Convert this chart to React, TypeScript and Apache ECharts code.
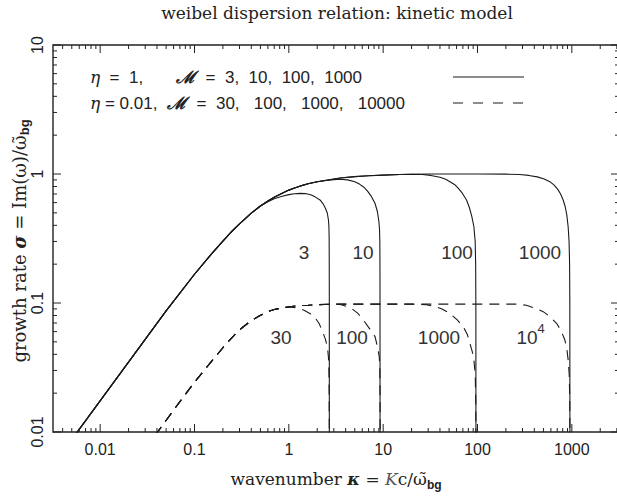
import React, { useEffect, useRef } from 'react';
import * as echarts from 'echarts';

// Axis ticks
const xTickValues = [0.01, 0.1, 1, 10, 100, 1000];
const xTickLabels = ['0.01', '0.1', '1', '10', '100', '1000'];
const yTickValues = [0.01, 0.1, 1, 10];
const yTickLabels = ['0.01', '0.1', '1', '10'];
const xMin = 0.0031623;
const xMax = 3162.3;
const yMin = 0.01;
const yMax = 10;

// eta = 1 (solid): common envelope (large M)
const envK = [0.004, 0.05, 0.1, 0.15, 0.2, 0.25, 0.3, 0.4, 0.5, 0.6, 0.7, 0.85, 1.0, 1.15, 1.31, 1.6, 2.0, 2.5, 3.5, 5, 7, 10, 15, 20, 30];
const envS = [0.007, 0.087, 0.167, 0.238, 0.302, 0.36, 0.41, 0.497, 0.565, 0.618, 0.66, 0.71, 0.75, 0.78, 0.805, 0.84, 0.87, 0.895, 0.93, 0.955, 0.97, 0.98, 0.99, 0.995, 1.0];
// M = 3 (leaves envelope after kappa = 0.5)
const m3K = [0.6, 0.7, 0.85, 1.0, 1.15, 1.31, 1.5, 1.7, 1.9, 2.14, 2.3, 2.45, 2.56, 2.63, 2.66, 2.675, 2.682, 2.686, 2.688];
const m3S = [0.61, 0.642, 0.672, 0.692, 0.703, 0.708, 0.705, 0.69, 0.665, 0.629, 0.59, 0.54, 0.496, 0.44, 0.39, 0.32, 0.2, 0.1, 0.005];
// M = 10 (leaves envelope after kappa = 2)
const m10K = [2.5, 3.0, 3.5, 4.2, 5.0, 5.6, 6.15, 6.8, 7.5, 8.19, 8.7, 9.0, 9.15, 9.22, 9.25, 9.26, 9.265];
const m10S = [0.89, 0.905, 0.91, 0.9, 0.87, 0.835, 0.797, 0.74, 0.67, 0.593, 0.51, 0.43, 0.37, 0.3, 0.18, 0.08, 0.005];
// M = 100 (leaves envelope after kappa = 20)
const m100K = [26, 32, 40, 46, 51, 57, 62, 69, 76.5, 82, 87, 91.6, 94.5, 95.6, 96.1, 96.3];
const m100S = [0.99, 0.975, 0.945, 0.91, 0.872, 0.83, 0.78, 0.71, 0.629, 0.55, 0.47, 0.39, 0.3, 0.2, 0.1, 0.005];
// M = 1000 (leaves envelope after kappa = 30)
const m1000K = [100, 200, 280, 350, 430, 510, 585, 650, 710, 760, 809, 850, 885, 914, 935, 947, 952, 955];
const m1000S = [1.0, 0.997, 0.99, 0.975, 0.95, 0.915, 0.872, 0.82, 0.76, 0.7, 0.629, 0.56, 0.48, 0.39, 0.3, 0.2, 0.1, 0.005];

// eta = 0.01 (dashed): common rising part
const dRiseK = [0.03, 0.0406, 0.07, 0.1, 0.15, 0.2, 0.25, 0.3, 0.39, 0.48, 0.58, 0.7, 0.87];
const dRiseS = [0.0074, 0.01, 0.0172, 0.0243, 0.035, 0.045, 0.054, 0.062, 0.072, 0.079, 0.085, 0.089, 0.092];
// M = 30
const d30K = [1.0, 1.2, 1.45, 1.67, 1.9, 2.1, 2.28, 2.45, 2.57, 2.63, 2.66, 2.675, 2.685, 2.69];
const d30S = [0.093, 0.092, 0.088, 0.083, 0.077, 0.069, 0.06, 0.052, 0.045, 0.038, 0.03, 0.02, 0.01, 0.005];
// common plateau for M >= 100
const dPlatK = [1.2, 1.6, 2.0, 3.0];
const dPlatS = [0.095, 0.096, 0.097, 0.098];
// M = 100
const d100K = [3.6, 4.1, 4.7, 5.4, 6.15, 7.2, 8.19, 8.7, 9.1, 9.22, 9.27, 9.3, 9.31];
const d100S = [0.097, 0.094, 0.09, 0.083, 0.074, 0.063, 0.055, 0.046, 0.038, 0.03, 0.02, 0.01, 0.005];
// M = 1000
const d1000K = [10, 20, 28.6, 35, 42, 51, 61, 70.6, 78, 83, 88, 91.6, 94.5, 95.8, 96.3, 96.4];
const d1000S = [0.098, 0.098, 0.097, 0.094, 0.09, 0.083, 0.074, 0.0655, 0.057, 0.0487, 0.042, 0.0362, 0.028, 0.018, 0.008, 0.004];
// M = 10^4
const d10000K = [30, 260, 330, 410, 497, 590, 688, 770, 843, 885, 914, 938, 950, 955, 957];
const d10000S = [0.098, 0.098, 0.096, 0.091, 0.0857, 0.078, 0.0696, 0.061, 0.0517, 0.044, 0.0362, 0.028, 0.018, 0.008, 0.004];

const INK = '#1a1a1a';
const SANS = 'Liberation Sans, Arial, sans-serif';
const SERIF = 'DejaVu Serif, serif';

function build(parts: [number[], number[], number?][]) {
  const out: number[][] = [];
  parts.forEach(([ks, ss, upTo]) => {
    ks.forEach((k, i) => {
      if (upTo === undefined || k <= upTo) out.push([k, ss[i]]);
    });
  });
  return out;
}

function tickData() {
  const d: number[][] = [];
  xTickValues.forEach((v) => d.push([v, 1, 0]));
  for (let e = -3; e <= 3; e++) {
    for (let m = 2; m <= 9; m++) {
      const v = m * Math.pow(10, e);
      if (v > xMin && v < xMax) d.push([v, 1, 1]);
    }
  }
  yTickValues.forEach((v) => d.push([1, v, 2]));
  for (let e = -2; e <= 0; e++) {
    for (let m = 2; m <= 9; m++) {
      d.push([1, m * Math.pow(10, e), 3]);
    }
  }
  return d;
}

function labelFor(values: number[], labels: string[], v: number) {
  for (let i = 0; i < values.length; i++) {
    if (Math.abs(Math.log10(v) - Math.log10(values[i])) < 0.01) return labels[i];
  }
  return '';
}

export default function App() {
  const ref = useRef<HTMLDivElement>(null);
  useEffect(() => {
    if (!ref.current) return;
    const chart = echarts.init(ref.current, undefined, { renderer: 'svg' });
    const line = (data: number[][], dashed: boolean) => ({
      type: 'line',
      data,
      smooth: false,
      showSymbol: false,
      symbol: 'none',
      clip: true,
      lineStyle: { color: INK, width: 1.1, type: dashed ? [10, 7] : 'solid' },
      z: 3,
    });
    const option: any = {
      animation: false,
      grid: {
        left: 53,
        top: 45,
        width: 566,
        height: 387,
        show: true,
        borderColor: '#222',
        borderWidth: 1.4,
        backgroundColor: 'transparent',
      },
      xAxis: {
        type: 'log',
        logBase: 10,
        min: xMin,
        max: xMax,
        axisLine: { show: false },
        axisTick: { show: false },
        splitLine: { show: false },
        axisLabel: {
          showMinLabel: false,
          showMaxLabel: false,
          margin: 9,
          fontFamily: SANS,
          fontSize: 16,
          color: '#222',
          formatter: (v: number) => labelFor(xTickValues, xTickLabels, v),
        },
      },
      yAxis: {
        type: 'log',
        logBase: 10,
        min: yMin,
        max: yMax,
        axisLine: { show: false },
        axisTick: { show: false },
        splitLine: { show: false },
        axisLabel: {
          rotate: 90,
          margin: 8,
          fontFamily: SANS,
          fontSize: 16,
          color: '#222',
          formatter: (v: number) => labelFor(yTickValues, yTickLabels, v),
        },
      },
      series: [
        line(build([[envK, envS, 0.5], [m3K, m3S]]), false),
        line(build([[envK, envS, 2.0], [m10K, m10S]]), false),
        line(build([[envK, envS, 20], [m100K, m100S]]), false),
        line(build([[envK, envS, 30], [m1000K, m1000S]]), false),
        line(build([[dRiseK, dRiseS], [d30K, d30S]]), true),
        line(build([[dRiseK, dRiseS], [dPlatK, dPlatS], [d100K, d100S]]), true),
        line(build([[dRiseK, dRiseS], [dPlatK, dPlatS], [d1000K, d1000S]]), true),
        line(build([[dRiseK, dRiseS], [dPlatK, dPlatS], [d10000K, d10000S]]), true),
        {
          type: 'custom',
          data: tickData(),
          silent: true,
          z: 5,
          encode: { x: 0, y: 1 },
          renderItem: (params: any, api: any) => {
            const cs = params.coordSys;
            const kind = api.value(2);
            const st = { stroke: '#222', lineWidth: 1 };
            if (kind < 2) {
              const px = api.coord([api.value(0), 1])[0];
              const len = kind === 0 ? 8 : 4;
              const b = cs.y + cs.height;
              return {
                type: 'group',
                children: [
                  { type: 'line', shape: { x1: px, y1: b, x2: px, y2: b - len }, style: st },
                  { type: 'line', shape: { x1: px, y1: cs.y, x2: px, y2: cs.y + len }, style: st },
                ],
              };
            }
            const py = api.coord([1, api.value(1)])[1];
            const len = kind === 2 ? 8 : 4;
            const r = cs.x + cs.width;
            return {
              type: 'group',
              children: [
                { type: 'line', shape: { x1: cs.x, y1: py, x2: cs.x + len, y2: py }, style: st },
                { type: 'line', shape: { x1: r, y1: py, x2: r - len, y2: py }, style: st },
              ],
            };
          },
        },
      ],
      graphic: [
        {
          type: 'text',
          x: 337,
          y: 13,
          style: {
            text: 'weibel dispersion relation: kinetic model',
            fontFamily: SERIF,
            fontSize: 17,
            fill: '#222',
            textAlign: 'center',
            textVerticalAlign: 'middle',
          },
        },
        {
          type: 'text',
          x: 336,
          y: 479,
          style: {
            text: '{n|wavenumber }{b|κ}{n| = }{i|K}{n|c/ω̃}{s|bg}',
            fontFamily: SERIF,
            fontSize: 17,
            fill: '#222',
            textAlign: 'center',
            textVerticalAlign: 'middle',
            rich: {
              n: { fontFamily: SERIF, fontSize: 17, lineHeight: 24, verticalAlign: 'middle' },
              b: { fontFamily: SERIF, fontSize: 17, fontWeight: 'bold', fontStyle: 'italic', lineHeight: 24, verticalAlign: 'middle' },
              i: { fontFamily: SERIF, fontSize: 17, fontStyle: 'italic', fill: '#555', lineHeight: 24, verticalAlign: 'middle' },
              s: { fontFamily: SANS, fontSize: 12, fontWeight: 'bold', lineHeight: 10, verticalAlign: 'bottom' },
            },
          },
        },
        {
          type: 'text',
          x: 19,
          y: 241,
          rotation: Math.PI / 2,
          style: {
            text: '{n|growth rate }{b|σ}{n| = Im(ω)/ω̃}{s|bg}',
            fontFamily: SERIF,
            fontSize: 18,
            fill: '#222',
            textAlign: 'center',
            textVerticalAlign: 'middle',
            rich: {
              n: { fontFamily: SERIF, fontSize: 18, lineHeight: 24, verticalAlign: 'middle' },
              b: { fontFamily: SERIF, fontSize: 18, fontWeight: 'bold', fontStyle: 'italic', lineHeight: 24, verticalAlign: 'middle' },
              s: { fontFamily: SANS, fontSize: 13, fontWeight: 'bold', lineHeight: 10, verticalAlign: 'bottom' },
            },
          },
        },
        // legend text
        {
          type: 'text',
          x: 90,
          y: 77,
          style: {
            text: '{e|η}  =  1,',
            fontFamily: SANS,
            fontSize: 17,
            fill: '#222',
            textVerticalAlign: 'middle',
            rich: { e: { fontFamily: SERIF, fontStyle: 'italic', fontSize: 17 } },
          },
        },
        {
          type: 'text',
          x: 362,
          y: 77,
          style: {
            text: '{m|ℳ}  =  3,  10,  100,  1000',
            fontFamily: SANS,
            fontSize: 17,
            fill: '#222',
            textAlign: 'right',
            textVerticalAlign: 'middle',
            rich: { m: { fontFamily: SERIF, fontStyle: 'italic', fontWeight: 'bold', fontSize: 17 } },
          },
        },
        {
          type: 'text',
          x: 90,
          y: 103,
          style: {
            text: '{e|η} = 0.01,',
            fontFamily: SANS,
            fontSize: 17,
            fill: '#222',
            textVerticalAlign: 'middle',
            rich: { e: { fontFamily: SERIF, fontStyle: 'italic', fontSize: 17 } },
          },
        },
        {
          type: 'text',
          x: 405,
          y: 103,
          style: {
            text: '{m|ℳ}  =  30,   100,   1000,   10000',
            fontFamily: SANS,
            fontSize: 17,
            fill: '#222',
            textAlign: 'right',
            textVerticalAlign: 'middle',
            rich: { m: { fontFamily: SERIF, fontStyle: 'italic', fontWeight: 'bold', fontSize: 17 } },
          },
        },
        { type: 'line', shape: { x1: 453, y1: 77, x2: 524, y2: 77 }, style: { stroke: INK, lineWidth: 1.1 } },
        { type: 'line', shape: { x1: 453, y1: 103, x2: 524, y2: 103 }, style: { stroke: INK, lineWidth: 1.1, lineDash: [10, 10] } },
        // curve labels
        ...[
          ['3', 304, 252],
          ['10', 363, 252],
          ['100', 457, 252],
          ['1000', 540, 252],
          ['30', 281, 337],
          ['100', 352, 337],
          ['1000', 439, 337],
          ['10', 527, 337],
        ].map((t: any) => ({
          type: 'text',
          x: t[1],
          y: t[2],
          style: {
            text: t[0],
            fontFamily: SANS,
            fontSize: 19,
            fill: '#333',
            textAlign: 'center',
            textVerticalAlign: 'middle',
          },
        })),
        {
          type: 'text',
          x: 541,
          y: 328,
          style: { text: '4', fontFamily: SANS, fontSize: 13, fill: '#333', textAlign: 'center', textVerticalAlign: 'middle' },
        },
      ],
    };
    chart.setOption(option);
    return () => chart.dispose();
  }, []);
  return (
    <div
      ref={ref}
      style={{ position: 'fixed', left: 0, top: 0, width: 640, height: 497, background: '#fff' }}
    />
  );
}
